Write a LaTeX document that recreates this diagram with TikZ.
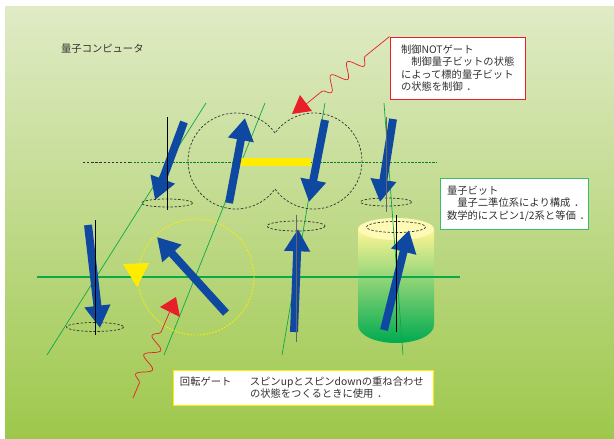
\documentclass[tikz,border=0pt]{standalone}
\usepackage{fontspec}
\setmainfont{Noto Sans CJK JP}
\usepackage{xcolor}
\usetikzlibrary{arrows.meta}
\usetikzlibrary{decorations.pathmorphing}

\definecolor{bgtop}{RGB}{224,235,198}
\definecolor{bgbot}{RGB}{158,200,76}
\definecolor{spinblue}{RGB}{14,72,160}
\definecolor{gatered}{RGB}{232,30,40}
\definecolor{axisgreen}{RGB}{10,170,70}
\definecolor{markyellow}{RGB}{255,236,0}
\definecolor{textgray}{RGB}{50,50,50}
\definecolor{cyltop}{RGB}{255,246,150}
\definecolor{cylmid}{RGB}{190,220,110}
\definecolor{cylbot}{RGB}{0,170,80}

% full-width stop, set in the middle of its cell
\newcommand{\fstop}{\makebox[1em][l]{\hspace*{.35em}．}}

\begin{document}
\begin{tikzpicture}[x=0.03cm,y=-0.03cm,
  font=\fontsize{8.8pt}{10.6pt}\selectfont, text=textgray,
  spin/.style={spinblue, line width=6.8pt, -{Triangle[length=19pt,width=21pt]}},
  axis/.style={axisgreen, line width=.6pt},
  orbit/.style={black!80, dash pattern=on 2pt off 1.5pt, line width=.6pt},
  wave/.style={gatered, line width=.6pt, decorate,
    decoration={snake, amplitude=6pt, segment length=18pt, pre length=#1, post length=12pt}},
  wave/.default=20pt,
  notebox/.style={draw, line width=.8pt, fill=white, inner ysep=0pt, align=left}]
  \useasboundingbox (0,0) rectangle (614,438);
  \shade[top color=bgtop, bottom color=bgbot] (5,6) rectangle (614,438);

  % cylinder
  \shade[top color=cyltop, middle color=cylmid, bottom color=cylbot]
    (358,229) -- (358,325) arc[start angle=180, end angle=0, x radius=38, y radius=18]
    -- (434,229) -- cycle;
  \fill[cyltop!70!white] (396,229) ellipse[x radius=38, y radius=11];

  \draw[black!80, dash pattern=on 2pt off 1.5pt] (83,162) -- (130,162);
  \draw[axisgreen!75!black, dash pattern=on 2pt off 1pt] (130,162) -- (437,162);
  \draw[axis, line width=.9pt] (37,277) -- (460,277);
  \draw[axis] (47,355) -- (206,103);
  \draw[axis] (164,355) -- (265,103);
  \draw[axis] (282,355) -- (325,103);
  \draw[axis] (403,355) -- (384,103);

  \draw[markyellow, dash pattern=on 1.5pt off 1.2pt, line width=.7pt] (196,277) circle[radius=58];
  \draw[orbit] (275,133) arc[start angle=-35.7, end angle=-324.3, radius=48]
    arc[start angle=144.3, end angle=-144.3, radius=48];
  \draw[orbit] (167,203) ellipse[x radius=25.5, y radius=4];
  \draw[orbit] (386,202) ellipse[x radius=25.5, y radius=4];
  \draw[orbit] (296,226) ellipse[x radius=29, y radius=5];
  \draw[orbit] (95,327) ellipse[x radius=28.5, y radius=4.5];
  \draw[orbit] (396,227) ellipse[x radius=29.5, y radius=5.5];

  \fill[markyellow] (240,158) rectangle (311,166);
  \fill[markyellow] (123,264) -- (149,263) -- (137,287) -- cycle;
  \fill[gatered] (300,95) -- (292,114) -- (312,111) -- cycle;
  \fill[gatered] (176,297) -- (160,307) -- (180,317) -- cycle;

  % spins
  \draw[spin] (184,122) -- (155,200);
  \draw[spin] (229,203) -- (245,118);
  \draw[spin] (325,120) -- (309,202);
  \draw[spin] (393,119) -- (380,202);
  \draw[spin] (88,225) -- (100,328);
  \draw[spin] (226,313) -- (157,237);
  \draw[spin] (294,332) -- (298,229);
  \draw[spin] (384,330) -- (409,230);

  \draw (167,117) -- (167,210);
  \draw (95,220) -- (95,335);
  \draw[black!60] (296,215) -- (296,342);
  \draw[black!60] (386,117) -- (386,212);
  \draw (396,215) -- (396,332);

  \node (title) [anchor=west] at (57,49) {量子コンピュータ};
  \node (cnot) [notebox, draw=gatered, text width=3.39cm, inner xsep=.33cm,
    minimum height=1.86cm] at (457.5,68)
    {制御NOTゲート\\　制御量子ビットの状態\\によって標的量子ビット\\の状態を制御\fstop};
  \node (qbit) [notebox, draw=axisgreen!80, text width=4.02cm, inner xsep=.21cm,
    minimum height=1.53cm] at (514,203.5)
    {量子ビット\\　量子二準位系により構成\fstop\\数学的にスピン1/2系と等価\fstop};
  \node (rot) [notebox, draw=markyellow, text width=7.38cm, inner xsep=.21cm,
    minimum height=1.05cm] at (303,387.5)
    {回転ゲート\hspace*{.55cm}スピンupとスピンdownの重ね合わせ\\
     \hspace*{2.1cm}の状態をつくるときに使用\fstop};

  \coordinate (cnotpt) at (305,105);
  \coordinate (rotsrc) at (133,398);
  \coordinate (rotpt) at (170,311);
  \draw[wave=27pt] (cnot.north west) -- (cnotpt);
  \draw[wave=14pt] (rotsrc) -- (rotpt);
\end{tikzpicture}
\end{document}
